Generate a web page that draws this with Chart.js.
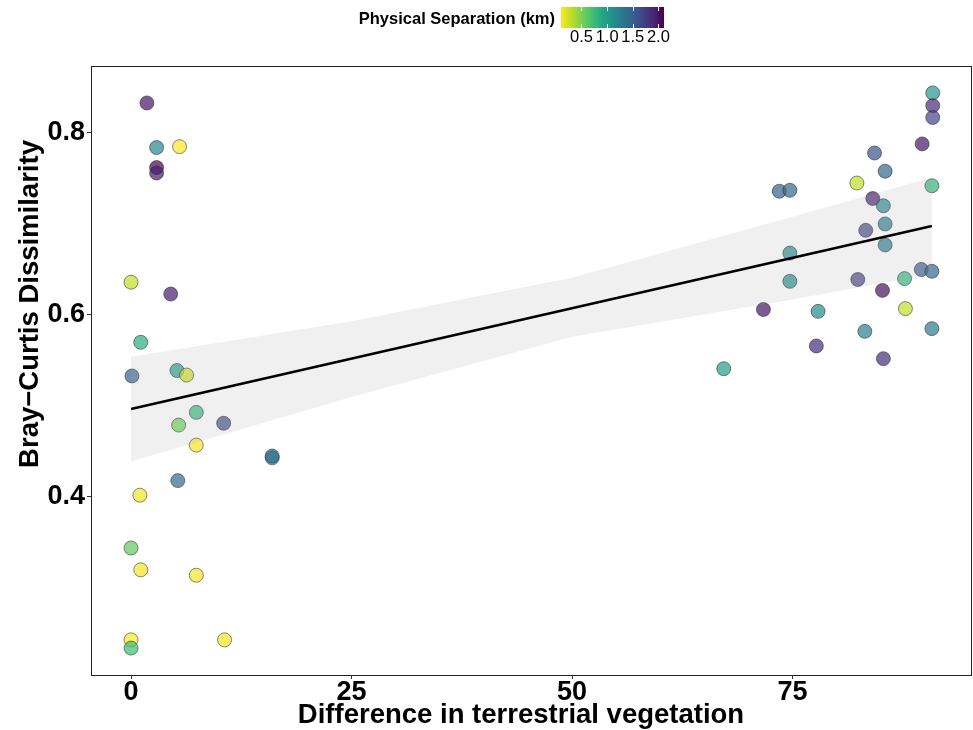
<!DOCTYPE html>
<html>
<head>
<meta charset="utf-8">
<script src="https://cdn.jsdelivr.net/npm/chart.js@4.4.1/dist/chart.umd.min.js"></script>
<style>
  html, body { margin: 0; padding: 0; background: #fff; }
  #wrap { position: relative; width: 973px; height: 730px; }
</style>
</head>
<body>
<div id="wrap"><canvas id="veg" width="973" height="730"></canvas></div>
<script>
'use strict'

// difference in terrestrial vegetation (x)
const vegDiff = [
    1.8, 2.9, 5.5, 2.9, 2.9, 0.0, 4.5, 1.1, 0.1, 5.2, 6.3,
    7.4, 5.4, 10.5, 7.4, 16.0, 16.0, 5.3, 1.0, 0.0, 1.1, 7.4, 0.0, 0.0, 10.6,
    90.9, 90.9, 90.9, 89.7, 84.3, 85.5, 82.3, 73.5, 74.7, 90.8,
    84.1, 85.3, 85.5, 83.3, 85.5, 74.7, 89.6, 90.8, 87.7, 82.4,
    74.7, 85.2, 71.7, 87.8, 77.9, 83.2, 90.8, 77.7, 85.3, 67.2
];

// Bray-Curtis dissimilarity (y)
const brayCurtis = [
    0.833, 0.784, 0.785, 0.762, 0.756, 0.636, 0.623, 0.570, 0.533, 0.539, 0.534,
    0.493, 0.479, 0.481, 0.457, 0.443, 0.445, 0.418, 0.402, 0.344, 0.320, 0.314, 0.243, 0.234, 0.243,
    0.844, 0.830, 0.817, 0.788, 0.778, 0.758, 0.745, 0.736, 0.737, 0.742,
    0.728, 0.720, 0.700, 0.693, 0.677, 0.668, 0.650, 0.648, 0.640, 0.639,
    0.637, 0.627, 0.606, 0.607, 0.604, 0.582, 0.585, 0.566, 0.552, 0.541
];

// physical separation (km), colour scale
const separation = [
    2.00, 1.21, 0.11, 2.11, 1.95, 0.30, 1.95, 0.87, 1.51, 1.01, 0.26,
    0.81, 0.55, 1.67, 0.12, 1.21, 1.41, 1.41, 0.14, 0.60, 0.12, 0.13, 0.10, 0.75, 0.12,
    1.07, 1.87, 1.71, 1.99, 1.61, 1.45, 0.30, 1.50, 1.45, 0.81,
    1.95, 1.21, 1.25, 1.71, 1.30, 1.18, 1.55, 1.45, 0.80, 1.75,
    1.15, 2.02, 2.00, 0.30, 1.15, 1.25, 1.30, 1.85, 1.85, 1.00
];

// linear fit and its confidence band
const fitX = [0, 90.8];
const fitY = [0.4967, 0.6978];
const bandX = [0, 25, 50, 75, 90.8];
const bandUpper = [0.554, 0.593, 0.641, 0.708, 0.751];
const bandLower = [0.439, 0.510, 0.576, 0.617, 0.645];

const xTicks = [0, 25, 50, 75];
const yTicks = [0.4, 0.6, 0.8];
const sepTicks = [0.5, 1.0, 1.5, 2.0];
const sepLimits = [0.10, 2.11];

const FONT = '"Liberation Sans", Arial, sans-serif';

const viridis = ['#440154', '#482475', '#414487', '#355f8d', '#2a788e', '#21918c',
                 '#22a884', '#44bf70', '#7ad151', '#bddf26', '#fde725'];

function hexRgb(h) {
    return [parseInt(h.slice(1, 3), 16), parseInt(h.slice(3, 5), 16), parseInt(h.slice(5, 7), 16)];
}

// reversed viridis: small separation = yellow, large = purple
function sepColor(v, alpha) {
    let p = 1 - (v - sepLimits[0]) / (sepLimits[1] - sepLimits[0]);
    p = Math.max(0, Math.min(1, p));
    const pos = p * (viridis.length - 1);
    const i = Math.min(Math.floor(pos), viridis.length - 2);
    const f = pos - i;
    const a = hexRgb(viridis[i]), b = hexRgb(viridis[i + 1]);
    const c = a.map((x, k) => Math.round(x + (b[k] - x) * f));
    return `rgba(${c[0]}, ${c[1]}, ${c[2]}, ${alpha})`;
}

const points = vegDiff.map((x, i) => ({x: x, y: brayCurtis[i]}));
const fitLine = fitX.map((x, i) => ({x: x, y: fitY[i]}));
const upper = bandX.map((x, i) => ({x: x, y: bandUpper[i]}));
const lower = bandX.map((x, i) => ({x: x, y: bandLower[i]}));

const decorations = {
    id: 'decorations',
    afterDraw(chart) {
        const ctx = chart.ctx;
        const a = chart.chartArea;
        ctx.save();

        // panel border
        ctx.strokeStyle = '#222';
        ctx.lineWidth = 1;
        ctx.strokeRect(a.left + 0.5, a.top + 0.5, a.right - a.left - 1, a.bottom - a.top);

        // axis titles
        ctx.fillStyle = '#000';
        ctx.font = 'bold 27.5px ' + FONT;
        ctx.textAlign = 'center';
        ctx.textBaseline = 'alphabetic';
        ctx.fillText('Difference in terrestrial vegetation', 521, 723);

        ctx.save();
        ctx.translate(38, 304);
        ctx.rotate(-Math.PI / 2);
        ctx.fillText('Bray\u2212Curtis Dissimilarity', 0, 0);
        ctx.restore();

        // colour bar legend
        const barL = 561, barR = 664, barT = 7, barB = 28;
        const grad = ctx.createLinearGradient(barL, 0, barR, 0);
        viridis.slice().reverse().forEach((c, i) => grad.addColorStop(i / (viridis.length - 1), c));
        ctx.fillStyle = grad;
        ctx.fillRect(barL, barT, barR - barL, barB - barT);

        const sx = v => barL + (v - sepLimits[0]) / (sepLimits[1] - sepLimits[0]) * (barR - barL);
        ctx.strokeStyle = '#fff';
        ctx.lineWidth = 1;
        sepTicks.forEach(v => {
            const x = Math.round(sx(v)) + 0.5;
            ctx.beginPath();
            ctx.moveTo(x, barT); ctx.lineTo(x, barT + 4);
            ctx.moveTo(x, barB - 4); ctx.lineTo(x, barB);
            ctx.stroke();
        });

        ctx.fillStyle = '#000';
        ctx.font = '16.5px ' + FONT;
        ctx.textAlign = 'center';
        ctx.textBaseline = 'middle';
        sepTicks.forEach(v => ctx.fillText(v.toFixed(1), sx(v), 37));

        ctx.font = 'bold 16.5px ' + FONT;
        ctx.textAlign = 'right';
        ctx.fillText('Physical Separation (km)', 555, 19);

        ctx.restore();
    }
};

new Chart(document.getElementById('veg').getContext('2d'), {
    type: 'scatter',
    data: {
        datasets: [
            {
                label: 'fit',
                data: fitLine,
                showLine: true,
                borderColor: '#000',
                borderWidth: 2.5,
                pointRadius: 0,
                fill: false,
                order: 1
            },
            {
                label: 'upper',
                data: upper,
                showLine: true,
                borderWidth: 0,
                borderColor: 'rgba(0,0,0,0)',
                backgroundColor: 'rgba(153, 153, 153, 0.15)',
                pointRadius: 0,
                fill: '+1',
                order: 2
            },
            {
                label: 'lower',
                data: lower,
                showLine: true,
                borderWidth: 0,
                borderColor: 'rgba(0,0,0,0)',
                pointRadius: 0,
                fill: false,
                order: 2
            },
            {
                label: 'sites',
                data: points,
                pointRadius: 7,
                pointBorderWidth: 1,
                pointBackgroundColor: separation.map(v => sepColor(v, 0.7)),
                pointBorderColor: 'rgba(40, 40, 40, 0.55)',
                order: 3
            }
        ]
    },
    options: {
        responsive: false,
        animation: false,
        events: [],
        layout: { autoPadding: false, padding: { left: 0, top: 66, right: 1, bottom: 0 } },
        plugins: {
            legend: { display: false },
            tooltip: { enabled: false }
        },
        scales: {
            x: {
                type: 'linear',
                min: -4.54,
                max: 95.35,
                afterBuildTicks: s => { s.ticks = xTicks.map(v => ({value: v})); },
                afterFit: s => { s.height = 55; s.paddingLeft = 0; s.paddingRight = 0; },
                grid: { display: true, drawOnChartArea: false, drawTicks: true, tickLength: 4, tickColor: '#333' },
                border: { display: false },
                ticks: {
                    color: '#000',
                    padding: 0,
                    maxRotation: 0,
                    font: { family: FONT, size: 27, weight: 'bold', lineHeight: 1 },
                    callback: v => String(v)
                }
            },
            y: {
                type: 'linear',
                min: 0.2044,
                max: 0.8736,
                afterBuildTicks: s => { s.ticks = yTicks.map(v => ({value: v})); },
                afterFit: s => { s.width = 91; s.paddingTop = 0; s.paddingBottom = 0; },
                grid: { display: true, drawOnChartArea: false, drawTicks: true, tickLength: 4, tickColor: '#333' },
                border: { display: false },
                ticks: {
                    color: '#000',
                    padding: 2,
                    font: { family: FONT, size: 27, weight: 'bold', lineHeight: 1 },
                    callback: v => v.toFixed(1)
                }
            }
        }
    },
    plugins: [decorations]
});
</script>
</body>
</html>
